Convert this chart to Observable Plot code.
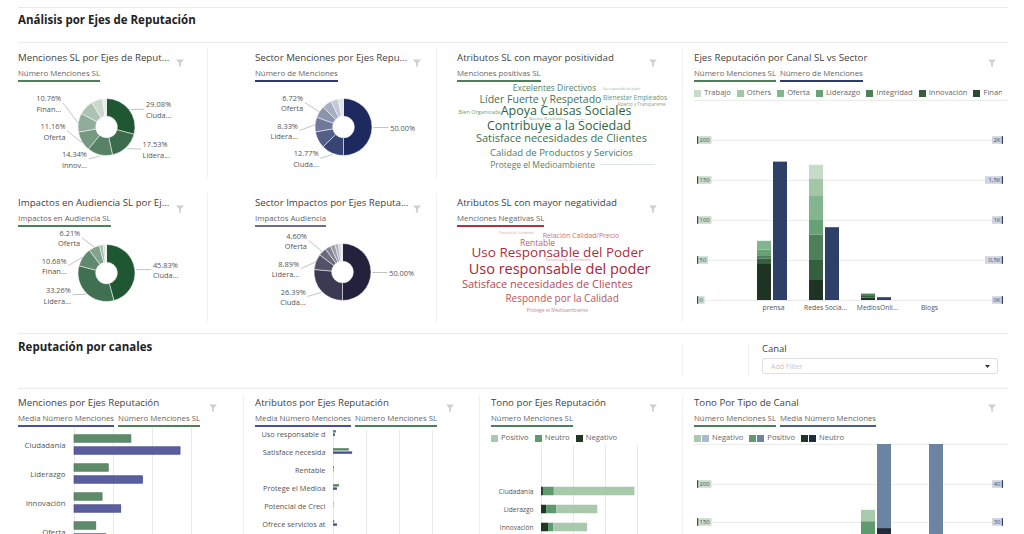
<!DOCTYPE html>
<html lang="es">
<head>
<meta charset="utf-8">
<title>Análisis por Ejes de Reputación</title>
<script src="https://cdn.jsdelivr.net/npm/d3@7"></script>
<script src="https://cdn.jsdelivr.net/npm/@observablehq/plot@0.6"></script>
<style>
  html,body{margin:0;padding:0;background:#fff}
  body{position:relative;width:1024px;height:534px;overflow:hidden;font-family:"Open Sans",sans-serif;}
  .abs{position:absolute;line-height:1;white-space:nowrap}
  .sec{font-weight:700;color:#222}
  .ttl{color:#3f3f3f}
  .sub{color:#666}
  .sub span{display:inline-block;padding-bottom:3px;border-bottom:2px solid;margin-right:4px}
  .hl{height:0;border-top:1px solid #ebebeb}
  .vl{width:0;border-left:1px solid #f1f1f1}
  .leg{display:flex;align-items:center;color:#666}
  .leg i{display:inline-block;width:7px;height:7px;flex:none}
  .leg b{font-weight:400;margin-right:6px;flex:none}
</style>
</head>
<body>
<script>
// ======================= DATA =======================
// Donut: Menciones SL por Ejes de Reputación (%)
const donut1Pct = [29.08, 17.53, 14.34, 11.16, 10.76, 8.60, 6.30, 2.23];
const donut1Lbl = ["Ciuda...", "Lidera...", "Innov...", "Oferta", "Finan...", null, null, null];
// Donut: Sector Menciones por Ejes Reputación (%)
const donut2Pct = [50.00, 12.77, 9.50, 8.33, 6.72, 5.50, 4.20, 2.98];
const donut2Lbl = ["", "Ciuda...", null, "Lidera...", "Oferta", null, null, null];
// Donut: Impactos en Audiencia SL (%)
const donut3Pct = [45.83, 33.26, 10.68, 6.21, 2.00, 1.20, 0.82];
const donut3Lbl = ["Ciuda...", "Lidera...", "Finan...", "Oferta", null, null, null];
// Donut: Sector Impactos (%)
const donut4Pct = [50.00, 26.39, 8.89, 4.60, 3.20, 2.60, 2.00, 1.40, 0.92];
const donut4Lbl = ["", "Ciuda...", "Lidera...", "Oferta", null, null, null, null, null];

// Word clouds (menciones)
const positivasPalabras = ["Excelentes Directivos", "Uso responsable del poder", "Líder Fuerte y Respetado", "Bienestar Empleados",
  "Abierto y Transparente", "Bien Organizada", "Apoya Causas Sociales", "Buenos Resultados", "Rentable",
  "Contribuye a la Sociedad", "Satisface necesidades de Clientes", "Calidad de Productos y Servicios",
  "Protege el Medioambiente", "Ofrece servicios atendiendo a su cliente actual"];
const positivasValor = [17, 6, 21, 13, 9, 11, 25, 8, 5, 25, 22, 19, 17, 5];
const negativasPalabras = ["Potencial de Crecimiento", "Relación Calidad/Precio", "Rentable", "Uso Responsable del Poder",
  "Potencial de crecimiento", "Uso responsable del poder", "Satisface necesidades de Clientes",
  "Responde por la Calidad", "Protege el Medioambiente"];
const negativasValor = [6, 14, 17, 27, 8, 29, 22, 20, 10];
// word-cloud layout (percent of the cloud box)
const positivasLayoutX = [47.4, 76.5, 41.3, 82.4, 85.2, 14.8, 52.4, 44.1, 58.4, 49.3, 50.4, 50.4, 42.2, 79.1];
const positivasLayoutY = [8.7, 8.7, 20.3, 18.6, 25.6, 32.9, 32.6, 40.3, 40.3, 47.4, 60.7, 76.5, 89.5, 88.1];
const negativasLayoutX = [30.9, 58.9, 40.0, 48.7, 53.5, 49.6, 44.3, 50.7, 48.6];
const negativasLayoutY = [8.1, 11.3, 18.6, 28.4, 36.1, 46.3, 62.1, 77.2, 89.5];

// Ejes Reputación por Canal SL (stacked) vs Sector
const canales = ["prensa", "Redes Sociales", "MediosOnline", "Blogs"];
const canalesEtiqueta = ["prensa", "Redes Socia...", "MediosOnli...", "Blogs"];
const ejesStack = ["Ciudadanía", "Financiero", "Innovación", "Integridad", "Liderazgo", "Oferta", "Others", "Trabajo"];
const slPrensa = [45, 0, 7, 3, 8, 11, 0, 0];
const slRedes  = [25, 0, 26, 31, 19, 29, 22, 17];
const slMedios = [3, 0, 2, 3, 0, 0, 0, 0];
const slBlogs  = [0, 0, 0, 0, 0, 0, 0, 0];
const sectorMenciones = [1730, 910, 35, 0];
const ticksSL = [0, 50, 100, 150, 200];
const ticksSector = ["0K", "0,5K", "1K", "1,5K", "2K"];

// Menciones por Ejes Reputación
const ejesBarras = ["Ciudadanía", "Liderazgo", "Innovación", "Oferta", "Financiero", "Integridad"];
const mencionesSL = [73, 44, 36, 28, 27, 21];
const mediaMenciones = [136, 88, 60, 41, 33, 27];

// Atributos por Ejes Reputación
const atributos = ["Uso responsable del poder", "Satisface necesidades de Clientes", "Rentable", "Protege el Medioambiente",
  "Potencial de Crecimiento", "Ofrece servicios atendiendo a su cliente actual", "Responde por la Calidad"];
const atribMedia = [3, 29, 0.6, 6, 0.4, 6, 4];
const atribSL = [4.5, 24, 1.5, 9, 0.6, 2, 27];

// Tono por Ejes Reputación
const tonoEjes = ["Ciudadanía", "Liderazgo", "Innovación", "Oferta", "Financiero"];
const tonoNegativo = [1.5, 4, 5.5, 3, 2];
const tonoNeutro = [8.5, 8, 4, 5, 4];
const tonoPositivo = [63, 32, 26.5, 20, 21];

// Tono por Tipo de Canal
const canalesTono = ["Blogs", "MediosOnline", "Redes Sociales", "prensa"];
const tonosCanal = ["Neutro", "Positivo", "Negativo"];
const tonoSLNeutro = [0, 3, 38, 10];
const tonoSLPositivo = [0, 4, 113, 56];
const tonoSLNegativo = [0, 1, 15, 8];
const tonoMediaNeutro = [0, 4, 28.4, 20];
const tonoMediaPositivo = [0, 9, 30, 42];
const tonoMediaNegativo = [0, 2, 6, 5];
const ticksTonoSL = [0, 50, 100, 150, 200];
const ticksTonoMedia = ["0", "10", "20", "30", "40"];

// ======================= HELPERS =======================
const FONT = '"Open Sans", sans-serif';
const baseStyle = {fontFamily: FONT, background: "transparent"};
function el(x, y, cls, html, st) {
  const d = document.createElement("div");
  d.className = "abs " + (cls || "");
  d.style.left = x + "px"; d.style.top = y + "px";
  if (st) Object.assign(d.style, st);
  if (html != null) d.innerHTML = html;
  document.body.appendChild(d);
  return d;
}
function txt(s, x, cy, fs, cls, st) { return el(x, cy - 0.56 * fs, cls, s, Object.assign({fontSize: fs + "px"}, st || {})); }
function hline(x1, x2, y) { el(x1, y, "hl", null, {width: (x2 - x1) + "px"}); }
function vline(x, y1, y2) { el(x, y1, "vl", null, {height: (y2 - y1) + "px"}); }
const FUNNEL = '<svg width="8" height="8" viewBox="0 0 8 8"><path d="M0 0.5H8L4.9 4V8L3.1 7.2V4Z" fill="#cfcfcf"/></svg>';
function funnel(x, cy) { el(x - 4, cy - 4, "", FUNNEL); }
function subs(x, cy, items) {
  el(x, cy - 0.56 * 7.8, "sub", items.map(([t, c]) => `<span style="border-color:${c}">${t}</span>`).join(""), {fontSize: "7.8px"});
}
function mount(node, x, y) { const d = el(x, y, "", null); d.appendChild(node); return d; }
function legend(x, cy, items, width) {
  const html = items.map(([t, cs]) => cs.map((c, k) => `<i style="background:${c};margin-right:${k < cs.length - 1 ? 1 : 3}px"></i>`).join("") + `<b>${t}</b>`).join("");
  return el(x, cy - 5, "leg", html, {fontSize: "7.6px", height: "10px", width: (width || 400) + "px", overflow: "hidden"});
}
function relax(list, gap, floor) {
  list.sort((a, b) => b.y - a.y);
  for (let it = 0; it < 300; it++) {
    for (let i = 0; i < list.length - 1; i++) {
      const d = list[i].y - list[i + 1].y;
      if (d < gap) { const s = (gap - d) / 2; list[i].y += s; list[i + 1].y -= s; }
    }
    list.forEach(l => { if (l.y < floor) l.y = floor; });
  }
}
function axisBoxes(ticks, labels, side, bg, edge) {
  return (index, scales, values, dims) => {
    const g = d3.create("svg:g").attr("font-size", 6).attr("fill", "#555").attr("font-family", FONT);
    ticks.forEach((t, i) => {
      const y = scales.y(t), s = labels[i], w = s.length * 3.5 + 4;
      const x0 = side === "left" ? dims.marginLeft : dims.width - dims.marginRight - w + 1;
      g.append("rect").attr("x", x0).attr("y", y - 3.8).attr("width", w).attr("height", 7.6).attr("fill", bg);
      g.append("rect").attr("x", side === "left" ? x0 : x0 + w - 1.2).attr("y", y - 3.8).attr("width", 1.2).attr("height", 7.6).attr("fill", edge);
      g.append("text").attr("x", side === "left" ? x0 + 2.5 : x0 + w - 2.5).attr("y", y).attr("dy", "0.34em")
        .attr("text-anchor", side === "left" ? "start" : "end").text(s);
    });
    return g.node();
  };
}
function donutPlot(pcts, names, c0, c1, cx, cy) {
  const R = 28.5, hole = 0.38, n = pcts.length;
  const colors = d3.quantize(d3.interpolateRgb(c0, c1), n);
  const total = d3.sum(pcts);
  const labs = [];
  let a = 0;
  pcts.forEach((p, i) => {
    const a0 = a, a1 = a + p / total * 2 * Math.PI; a = a1;
    const m = (a0 + a1) / 2, s = Math.sin(m), c = Math.cos(m);
    if (names[i] == null) return;
    const side = s >= 0 ? 1 : -1;
    labs.push({side, ax: s * 1.03, ay: c * 1.03, x: side * (0.42 + 1.2 * Math.abs(s)), y: c * 1.05,
      text: p.toFixed(2) + "%" + (names[i] ? "\n" + names[i] : "")});
  });
  [1, -1].forEach(sd => relax(labs.filter(l => l.side === sd), 0.98, -1.1));
  const arcs = (index, scales) => {
    const X = scales.x, Y = scales.y, r = X(1) - X(0);
    const g = d3.create("svg:g").attr("transform", `translate(${X(0)},${Y(0)})`);
    const pie = d3.pie().sort(null).value(d => d)(pcts);
    g.selectAll("path").data(pie).join("path")
      .attr("d", d3.arc().innerRadius(r * hole).outerRadius(r))
      .attr("fill", (d, i) => colors[i]).attr("stroke", "#fff").attr("stroke-width", 0.5);
    return g.node();
  };
  return Plot.plot({
    width: 189, height: 95, margin: 0, style: baseStyle,
    x: {domain: [-1, 1], range: [cx - R, cx + R], axis: null},
    y: {domain: [-1, 1], range: [cy + R, cy - R], axis: null},
    marks: [
      arcs,
      Plot.link(labs, {x1: "ax", y1: "ay", x2: d => d.x - d.side * 0.06, y2: "y", stroke: "#ababab", strokeWidth: 0.7}),
      Plot.text(labs.filter(d => d.side > 0), {x: "x", y: "y", text: "text", textAnchor: "start", fill: "#555", fontSize: 7.4, lineHeight: 1.45}),
      Plot.text(labs.filter(d => d.side < 0), {x: "x", y: "y", text: "text", textAnchor: "end", fill: "#555", fontSize: 7.4, lineHeight: 1.45})
    ]
  });
}
function cloudPlot(words, vals, lx, ly, lo, hi) {
  const col = d3.scaleLinear().domain([d3.min(vals), d3.max(vals)]).range([lo, hi]);
  const data = words.map((w, i) => ({w, v: vals[i], x: lx[i], y: ly[i]}));
  return Plot.plot({
    width: 230, height: 95, margin: 0, style: baseStyle,
    x: {domain: [0, 100], range: [0, 230], axis: null},
    y: {domain: [0, 100], range: [0, 95], axis: null},
    color: {type: "identity"},
    marks: [Plot.text(data, {x: "x", y: "y", text: "w", fontSize: d => d.v * 0.5, fill: d => col(d.v)})]
  });
}
const ctx = document.createElement("canvas").getContext("2d");
function fit(s, w, font) {
  ctx.font = font; let t = s;
  while (t.length && ctx.measureText(t).width > w) t = t.slice(0, -1);
  return t;
}

// ======================= LAYOUT / TEXT =======================
hline(18, 1008, 7);
txt("Análisis por Ejes de Reputación", 18, 20, 11.5, "sec");
hline(18, 1008, 42);
vline(207, 48, 178); vline(207, 193, 322);
vline(436, 48, 178); vline(436, 193, 322);
vline(682, 48, 322);

const G = "#4d7f5a", NAVY = "#2d3d6b", PURP = "#6f6b8c", RED = "#b5303f", BLUEP = "#4a4f9a";
const TF = 9.7;
txt("Menciones SL por Ejes de Reput...", 18, 58, TF, "ttl"); funnel(180, 57);
txt("Sector Menciones por Ejes Repu...", 255, 58, TF, "ttl"); funnel(417, 57);
txt("Atributos SL con mayor positividad", 457, 58, TF, "ttl"); funnel(653, 57);
txt("Ejes Reputación por Canal SL vs Sector", 694, 58, TF, "ttl"); funnel(992, 57);
subs(18, 74, [["Número Menciones SL", G]]);
subs(255, 74, [["Número de Menciones", NAVY]]);
subs(457, 74, [["Menciones positivas SL", G]]);
subs(694, 74, [["Número Menciones SL", G], ["Número de Menciones", NAVY]]);

txt("Impactos en Audiencia SL por Ej...", 18, 203, TF, "ttl"); funnel(180, 203);
txt("Sector Impactos por Ejes Reputa...", 255, 203, TF, "ttl"); funnel(417, 203);
txt("Atributos SL con mayor negatividad", 457, 203, TF, "ttl"); funnel(653, 203);
subs(18, 219, [["Impactos en Audiencia SL", G]]);
subs(255, 219, [["Impactos Audiencia", PURP]]);
subs(457, 219, [["Menciones Negativas SL", RED]]);

// section 2
hline(18, 1008, 333);
txt("Reputación por canales", 18, 347, 11.5, "sec");
vline(682, 343, 377); vline(748, 343, 377);
txt("Canal", 762, 349, 9.5, "ttl");
el(762, 358, "", `<span style="position:absolute;left:8px;top:4px;font-size:7px;line-height:1;color:#c6c6c6">Add Filter</span><svg style="position:absolute;right:7px;top:6px" width="5" height="3"><path d="M0 0H5L2.5 3Z" fill="#333"/></svg>`,
  {width: "236px", height: "16px", border: "1px solid #e0e0e0", borderRadius: "2px", boxSizing: "border-box"});
hline(18, 1008, 388);
vline(243, 395, 534); vline(479, 395, 534); vline(682, 395, 534);

txt("Menciones por Ejes Reputación", 18, 403, TF, "ttl"); funnel(213, 402);
txt("Atributos por Ejes Reputación", 255, 403, TF, "ttl"); funnel(450, 402);
txt("Tono por Ejes Reputación", 491, 403, TF, "ttl"); funnel(653, 402);
txt("Tono Por Tipo de Canal", 694, 403, TF, "ttl"); funnel(992, 402);
subs(18, 419, [["Media Número Menciones", BLUEP], ["Número Menciones SL", G]]);
subs(255, 419, [["Media Número Menciones", BLUEP], ["Número Menciones SL", G]]);
subs(491, 419, [["Número Menciones SL", G]]);
subs(694, 419, [["Número Menciones SL", G], ["Media Número Menciones", "#4d5d7e"]]);

// ======================= CHARTS =======================
mount(donutPlot(donut1Pct, donut1Lbl, "#1f5733", "#e6eee7", 88.5, 44), 18, 83);
mount(donutPlot(donut2Pct, donut2Lbl, "#1c2a60", "#dfe2ea", 88.5, 44), 255, 83);
mount(donutPlot(donut3Pct, donut3Lbl, "#1f5733", "#e6eee7", 88.5, 45), 18, 228);
mount(donutPlot(donut4Pct, donut4Lbl, "#22223d", "#e3e3ea", 87.5, 44), 255, 228);

mount(cloudPlot(positivasPalabras, positivasValor, positivasLayoutX, positivasLayoutY, "#93b39b", "#2f6342"), 445, 80);
mount(cloudPlot(negativasPalabras, negativasValor, negativasLayoutX, negativasLayoutY, "#d99aa2", "#a82536"), 445, 225);

// Ejes Reputación por Canal SL vs Sector
const greensStack = ["#1e3324", "#2a4a33", "#34603f", "#4d7f59", "#69a176", "#82b58d", "#a1c7a7", "#c6dbc8"];
legend(694, 93, ejesStack.map((e, i) => [e, [greensStack[i]]]).reverse(), 308);
hline(694, 1008, 100);
const slRows = [];
[slPrensa, slRedes, slMedios, slBlogs].forEach((arr, ci) => arr.forEach((v, ei) => slRows.push({canal: canales[ci], eje: ejesStack[ei], v})));
const sectorRows = canales.map((c, i) => ({canal: c, v: sectorMenciones[i]}));
mount(Plot.plot({
  width: 314, height: 220, marginLeft: 3, marginRight: 6, marginTop: 0, marginBottom: 20, style: baseStyle,
  x: {type: "band", domain: canales, range: [53, 261], padding: 0, axis: null},
  y: {domain: [0, 250], range: [200, 0], axis: null},
  color: {domain: ejesStack, range: greensStack},
  marks: [
    Plot.ruleY(ticksSL, {stroke: "#ebebeb"}),
    Plot.barY(slRows, Plot.stackY({x: "canal", y: "v", fill: "eje", insetLeft: 10, insetRight: 28})),
    Plot.barY(sectorRows, {x: "canal", y: d => d.v / 10, fill: "#2e3f68", insetLeft: 26, insetRight: 12}),
    axisBoxes(ticksSL, ticksSL.map(String), "left", "#c9ddce", "#2b5a37"),
    axisBoxes(ticksSL, ticksSector, "right", "#cfd3e3", "#2e3f68"),
    Plot.text(canales, {x: d => d, y: 0, dy: 7.5, text: (d, i) => canalesEtiqueta[i], fill: "#555", fontSize: 6.8})
  ]
}), 694, 100);

// Menciones por Ejes Reputación
mount(Plot.plot({
  width: 212, height: 115, marginLeft: 0, marginRight: 0, marginTop: 3, marginBottom: 0, style: baseStyle,
  x: {domain: [0, 200], range: [56, 212], axis: null},
  y: {type: "band", domain: ejesBarras, range: [3.25, 3.25 + 29.5 * ejesBarras.length], padding: 0, axis: null},
  marks: [
    Plot.ruleX([0, 50, 100, 150], {stroke: "#e9e9e9"}),
    Plot.barX(ejesBarras, {y: d => d, x: (d, i) => mencionesSL[i], fill: "#5e8c6a", stroke: "#466f52", strokeWidth: 0.6, insetTop: 4.75, insetBottom: 16.75}),
    Plot.barX(ejesBarras, {y: d => d, x: (d, i) => mediaMenciones[i], fill: "#5a5e9e", stroke: "#3f4383", strokeWidth: 0.6, insetTop: 16.75, insetBottom: 4.75}),
    Plot.text(ejesBarras, {y: d => d, x: 0, dx: -9, textAnchor: "end", fill: "#555", fontSize: 7.8})
  ]
}), 18, 425);

// Atributos por Ejes Reputación
mount(Plot.plot({
  width: 225, height: 120, marginLeft: 0, marginRight: 0, marginTop: 10, marginBottom: 0, style: baseStyle,
  x: {domain: [0, 200], range: [78, 210], axis: null},
  y: {type: "band", domain: atributos, range: [3.8, 3.8 + 18.4 * atributos.length], padding: 0, axis: null},
  marks: [
    Plot.ruleX([0, 50, 100, 150], {stroke: "#e9e9e9"}),
    Plot.barX(atributos, {y: d => d, x: (d, i) => atribSL[i], fill: "#53855f", insetTop: 5.2, insetBottom: 10.5}),
    Plot.barX(atributos, {y: d => d, x: (d, i) => atribMedia[i], fill: "#4a50a0", insetTop: 8.4, insetBottom: 7.2}),
    Plot.text(atributos, {y: d => d, x: 0, dx: -8, textAnchor: "end", fill: "#555", fontSize: 7.4,
      text: d => fit(d, 67, "7.4px " + FONT)})
  ]
}), 255, 420);

// Tono por Ejes Reputación
const verdesTonoEje = {Positivo: "#a9c9ad", Neutro: "#5f9a6e", Negativo: "#1f3826"};
legend(491, 438, ["Positivo", "Neutro", "Negativo"].map(t => [t, [verdesTonoEje[t]]]), 190);
const tonoRows = [];
tonoEjes.forEach((e, i) => {
  tonoRows.push({eje: e, tono: "Negativo", v: tonoNegativo[i]}, {eje: e, tono: "Neutro", v: tonoNeutro[i]}, {eje: e, tono: "Positivo", v: tonoPositivo[i]});
});
mount(Plot.plot({
  width: 190, height: 100, marginLeft: 0, marginRight: 0, marginTop: 1, marginBottom: 0, style: baseStyle,
  x: {domain: [0, 100], range: [50, 178], axis: null},
  y: {type: "band", domain: tonoEjes, range: [36.75, 36.75 + 18.5 * tonoEjes.length], padding: 0, axis: null},
  color: {domain: Object.keys(verdesTonoEje), range: Object.values(verdesTonoEje)},
  marks: [
    Plot.ruleX([0, 25, 50, 75], {stroke: "#e9e9e9"}),
    Plot.barX(tonoRows, Plot.stackX({y: "eje", x: "v", fill: "tono", insetTop: 4.75, insetBottom: 4.75})),
    Plot.text(tonoEjes, {y: d => d, x: 0, dx: -8, textAnchor: "end", fill: "#555", fontSize: 6.6})
  ]
}), 491, 444);

// Tono Por Tipo de Canal
const verdesTono = {Neutro: "#1f3826", Positivo: "#5f9a6e", Negativo: "#a9c9ad"};
const azulesTono = {Neutro: "#232b3b", Positivo: "#6a84a1", Negativo: "#aeb9cf"};
legend(694, 438, ["Negativo", "Positivo", "Neutro"].map(t => [t, [verdesTono[t], azulesTono[t]]]), 314);
hline(694, 1008, 444);
const tonoCanalSL = [tonoSLNeutro, tonoSLPositivo, tonoSLNegativo];
const tonoCanalMedia = [tonoMediaNeutro, tonoMediaPositivo, tonoMediaNegativo];
const rowsSLT = [], rowsMT = [];
canalesTono.forEach((c, i) => tonosCanal.forEach((t, j) => {
  rowsSLT.push({canal: c, tono: t, v: tonoCanalSL[j][i]});
  rowsMT.push({canal: c, tono: t, v: tonoCanalMedia[j][i]});
}));
mount(Plot.plot({
  width: 314, height: 200, marginLeft: 3, marginRight: 6, marginTop: 0, marginBottom: 0, style: baseStyle,
  x: {type: "band", domain: canalesTono, range: [53, 261], padding: 0, axis: null},
  y: {domain: [0, 252.6], range: [192, 0], axis: null},
  color: {type: "identity"},
  marks: [
    Plot.ruleY(ticksTonoSL, {stroke: "#ebebeb"}),
    Plot.barY(rowsSLT, Plot.stackY({x: "canal", y: "v", fill: d => verdesTono[d.tono], insetLeft: 10, insetRight: 28})),
    Plot.barY(rowsMT, Plot.stackY({x: "canal", y: d => d.v * 5, fill: d => azulesTono[d.tono], insetLeft: 26, insetRight: 12})),
    axisBoxes(ticksTonoSL, ticksTonoSL.map(String), "left", "#c9ddce", "#2b5a37"),
    axisBoxes(ticksTonoSL, ticksTonoMedia, "right", "#cfd3e3", "#2e3f68")
  ]
}), 694, 444);
</script>
</body>
</html>
